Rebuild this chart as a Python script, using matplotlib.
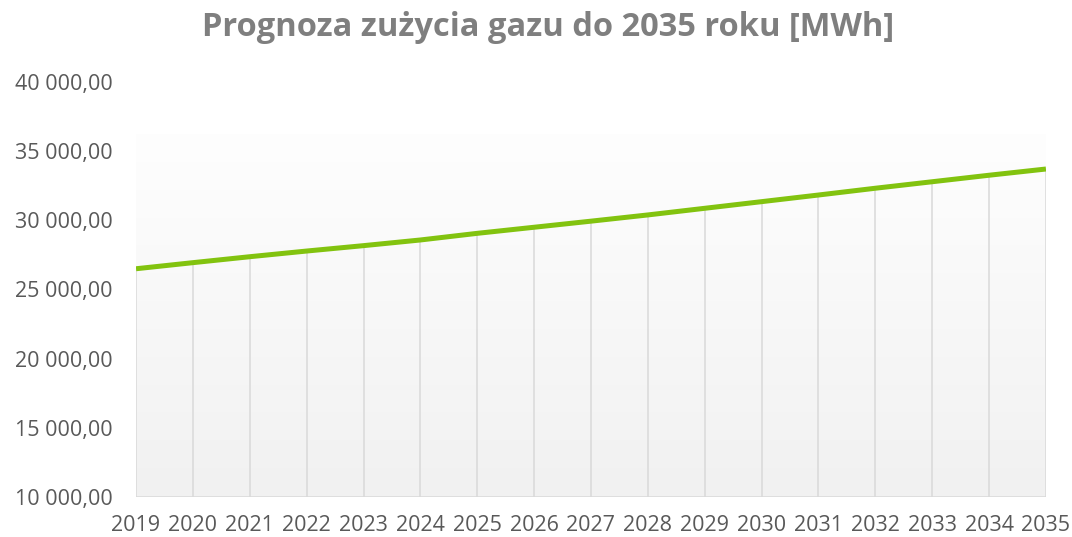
import matplotlib.pyplot as plt
import numpy as np

lata = [2019, 2020, 2021, 2022, 2023, 2024, 2025, 2026, 2027,
        2028, 2029, 2030, 2031, 2032, 2033, 2034, 2035]
zuzycie = [26500, 26940, 27370, 27780, 28170, 28580, 29060, 29500, 29940,
           30390, 30870, 31350, 31830, 32320, 32790, 33260, 33710]
y_ticks = [10000, 15000, 20000, 25000, 30000, 35000, 40000]

plt.rcParams['font.family'] = ['Open Sans', 'DejaVu Sans']

fig = plt.figure(figsize=(10.72, 5.37), dpi=100)
ax = fig.add_axes([0.1269, 0.0745, 0.8488, 0.7728])

# gradient background (white at top -> light gray at bottom)
grad = np.linspace(0, 1, 256).reshape(-1, 1)
top = np.array([0.996, 0.996, 0.996])
bot = np.array([0.945, 0.945, 0.945])
img = top + (bot - top) * grad[:, :, None]
ax.imshow(img, extent=[lata[0], lata[-1], 10000, 36200], aspect='auto',
          origin='upper', zorder=0)

# vertical grid lines up to the line
ax.vlines(lata, 10000, zuzycie, colors='#D9D9D9', lw=1.1, zorder=1)
ax.axhline(10000, color='#D9D9D9', lw=1.1, zorder=1)

ax.plot(lata, zuzycie, color='#82C30F', lw=3.6, solid_capstyle='butt', zorder=3)

ax.set_xlim(lata[0], lata[-1])
ax.set_ylim(10000, 40000)
ax.set_xticks(lata)
ax.set_yticks(y_ticks)
ax.set_yticklabels([f"{v:,.2f}".replace(",", " ").replace(".", ",") for v in y_ticks])
ax.tick_params(length=0, labelsize=15.5, colors='#595959')
ax.tick_params(axis='y', pad=17)
ax.tick_params(axis='x', pad=13)
for s in ax.spines.values():
    s.set_visible(False)

fig.suptitle("Prognoza zużycia gazu do 2035 roku [MWh]", x=0.511, y=0.98,
             fontsize=23.5, fontweight='bold', color='#7F7F7F')

fig.savefig('out.png', dpi=100)
